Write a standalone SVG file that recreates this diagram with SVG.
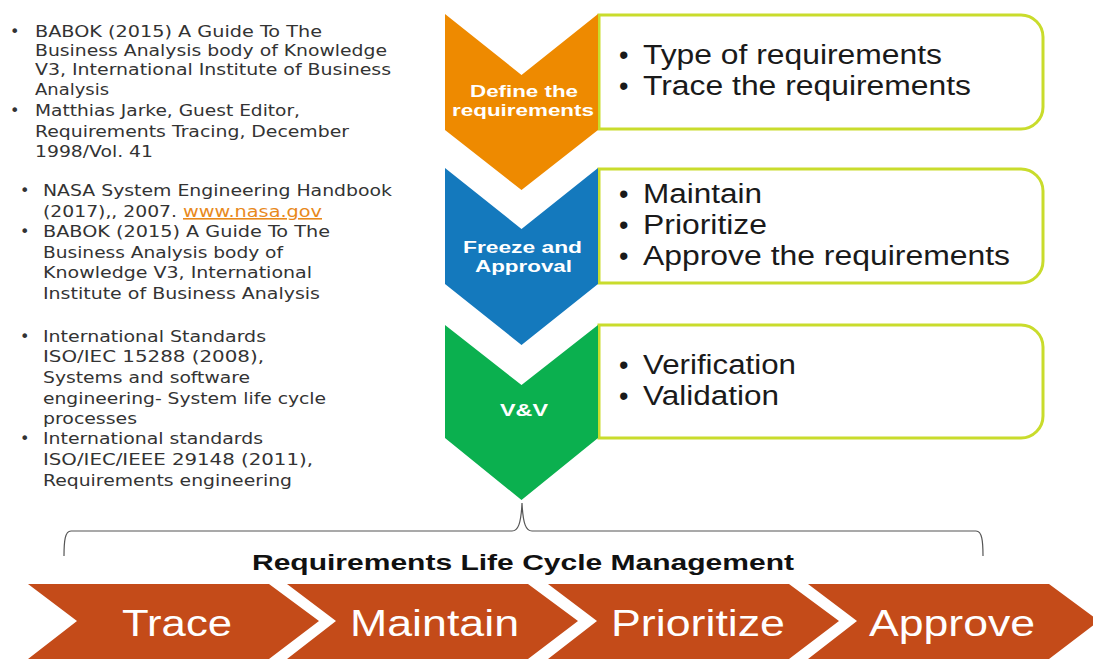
<svg xmlns="http://www.w3.org/2000/svg" width="1093" height="659" viewBox="0 0 1093 659">
<style>
.ref{font-family:"DejaVu Sans",Verdana,sans-serif;font-size:16px;fill:#333333}
.link{fill:#e8891c;text-decoration:underline}
.box{fill:#ffffff;stroke:#c9dc2c;stroke-width:3}
.boxtxt{font-family:"Liberation Sans",Arial,sans-serif;font-size:27px;fill:#1a1a1a}
.chevlbl{font-family:"Liberation Sans",Arial,sans-serif;font-size:16px;font-weight:bold;fill:#ffffff;text-anchor:middle}
.step{fill:#c44b19}
.steptxt{font-family:"Liberation Sans",Arial,sans-serif;font-size:36px;fill:#ffffff;text-anchor:middle}
.title{font-family:"Liberation Sans",Arial,sans-serif;font-size:22px;font-weight:bold;fill:#111111;text-anchor:middle}
.bracket{fill:none;stroke:#555555;stroke-width:1.2}
</style>
<rect width="1093" height="659" fill="#ffffff"/>

<g id="references">
<g id="ref-group-1" class="ref">
<text x="10" y="37">•</text>
<text x="35" y="37" textLength="287" lengthAdjust="spacingAndGlyphs">BABOK (2015) A Guide To The</text>
<text x="35" y="56" textLength="352" lengthAdjust="spacingAndGlyphs">Business Analysis body of Knowledge</text>
<text x="35" y="75" textLength="356" lengthAdjust="spacingAndGlyphs">V3, International Institute of Business</text>
<text x="35" y="95" textLength="74" lengthAdjust="spacingAndGlyphs">Analysis</text>
<text x="10" y="116">•</text>
<text x="35" y="116" textLength="265" lengthAdjust="spacingAndGlyphs">Matthias Jarke, Guest Editor,</text>
<text x="35" y="137" textLength="314" lengthAdjust="spacingAndGlyphs">Requirements Tracing, December</text>
<text x="35" y="157" textLength="118" lengthAdjust="spacingAndGlyphs">1998/Vol. 41</text>
</g>
<g id="ref-group-2" class="ref">
<text x="20" y="196">•</text>
<text x="43" y="196" textLength="349" lengthAdjust="spacingAndGlyphs">NASA System Engineering Handbook</text>
<text x="43" y="217" textLength="134" lengthAdjust="spacingAndGlyphs">(2017),, 2007.</text>
<text x="183" y="217" class="ref link" textLength="139" lengthAdjust="spacingAndGlyphs">www.nasa.gov</text>
<text x="20" y="237">•</text>
<text x="43" y="237" textLength="287" lengthAdjust="spacingAndGlyphs">BABOK (2015) A Guide To The</text>
<text x="43" y="258" textLength="240" lengthAdjust="spacingAndGlyphs">Business Analysis body of</text>
<text x="43" y="278" textLength="269" lengthAdjust="spacingAndGlyphs">Knowledge V3, International</text>
<text x="43" y="299" textLength="277" lengthAdjust="spacingAndGlyphs">Institute of Business Analysis</text>
</g>
<g id="ref-group-3" class="ref">
<text x="20" y="342">•</text>
<text x="43" y="342" textLength="223" lengthAdjust="spacingAndGlyphs">International Standards</text>
<text x="43" y="362" textLength="221" lengthAdjust="spacingAndGlyphs">ISO/IEC 15288 (2008),</text>
<text x="43" y="383" textLength="207" lengthAdjust="spacingAndGlyphs">Systems and software</text>
<text x="43" y="404" textLength="283" lengthAdjust="spacingAndGlyphs">engineering- System life cycle</text>
<text x="43" y="424" textLength="94" lengthAdjust="spacingAndGlyphs">processes</text>
<text x="20" y="444">•</text>
<text x="43" y="444" textLength="220" lengthAdjust="spacingAndGlyphs">International standards</text>
<text x="43" y="465" textLength="270" lengthAdjust="spacingAndGlyphs">ISO/IEC/IEEE 29148 (2011),</text>
<text x="43" y="486" textLength="249" lengthAdjust="spacingAndGlyphs">Requirements engineering</text>
</g>
</g>

<g id="connectors">
<path class="bracket" d="M64,556 C64,541 65,531 71,531 L512,531 C518,531 521,524 522,503 C523,524 526,531 532,531 L976,531 C982,531 983,541 983,556"/>
</g>

<g id="define">
<path class="box" d="M599,15 H1021 A22,22 0 0 1 1043,37 V107 A22,22 0 0 1 1021,129 H599 Z"/>
<path fill="#ee8a00" d="M445,14 L521.5,75 L598,14 L598,130 L521.5,190 L445,130 Z"/>
<text class="chevlbl" x="524" y="97" textLength="108" lengthAdjust="spacingAndGlyphs">Define the</text>
<text class="chevlbl" x="523" y="116" textLength="142" lengthAdjust="spacingAndGlyphs">requirements</text>
<text class="boxtxt" x="619" y="64">•</text>
<text class="boxtxt" x="643" y="64" textLength="299" lengthAdjust="spacingAndGlyphs">Type of requirements</text>
<text class="boxtxt" x="619" y="95">•</text>
<text class="boxtxt" x="643" y="95" textLength="328" lengthAdjust="spacingAndGlyphs">Trace the requirements</text>
</g>

<g id="freeze">
<path class="box" d="M599,169 H1021 A22,22 0 0 1 1043,191 V261 A22,22 0 0 1 1021,283 H599 Z"/>
<path fill="#1479bd" d="M445,168 L521.5,229 L598,168 L598,284 L521.5,345 L445,284 Z"/>
<text class="chevlbl" x="522.5" y="253" textLength="119" lengthAdjust="spacingAndGlyphs">Freeze and</text>
<text class="chevlbl" x="523.5" y="272" textLength="97" lengthAdjust="spacingAndGlyphs">Approval</text>
<text class="boxtxt" x="619" y="203">•</text>
<text class="boxtxt" x="643" y="203" textLength="119" lengthAdjust="spacingAndGlyphs">Maintain</text>
<text class="boxtxt" x="619" y="234">•</text>
<text class="boxtxt" x="643" y="234" textLength="124" lengthAdjust="spacingAndGlyphs">Prioritize</text>
<text class="boxtxt" x="619" y="265">•</text>
<text class="boxtxt" x="643" y="265" textLength="367" lengthAdjust="spacingAndGlyphs">Approve the requirements</text>
</g>

<g id="vv">
<path class="box" d="M599,325 H1021 A22,22 0 0 1 1043,347 V416 A22,22 0 0 1 1021,438 H599 Z"/>
<path fill="#0bb04f" d="M445,325 L521.5,385 L598,325 L598,438 L521.5,500 L445,438 Z"/>
<text class="chevlbl" x="524" y="416" textLength="48" lengthAdjust="spacingAndGlyphs">V&amp;V</text>
<text class="boxtxt" x="619" y="374">•</text>
<text class="boxtxt" x="643" y="374" textLength="153" lengthAdjust="spacingAndGlyphs">Verification</text>
<text class="boxtxt" x="619" y="405">•</text>
<text class="boxtxt" x="643" y="405" textLength="136" lengthAdjust="spacingAndGlyphs">Validation</text>
</g>

<g id="lifecycle-title">
<text class="title" x="523" y="570" textLength="542" lengthAdjust="spacingAndGlyphs">Requirements Life Cycle Management</text>
</g>

<g id="step-trace">
<path class="step" d="M28,584 H269 L319,621 L269,659 H28 L77,621 Z"/>
<text class="steptxt" x="177" y="636" textLength="110" lengthAdjust="spacingAndGlyphs">Trace</text>
</g>
<g id="step-maintain">
<path class="step" d="M287,584 H528 L578,621 L528,659 H287 L336,621 Z"/>
<text class="steptxt" x="434.5" y="636" textLength="169" lengthAdjust="spacingAndGlyphs">Maintain</text>
</g>
<g id="step-prioritize">
<path class="step" d="M548,584 H789 L839,621 L789,659 H548 L597,621 Z"/>
<text class="steptxt" x="698" y="636" textLength="174" lengthAdjust="spacingAndGlyphs">Prioritize</text>
</g>
<g id="step-approve">
<path class="step" d="M808,584 H1049 L1099,621 L1049,659 H808 L857,621 Z"/>
<text class="steptxt" x="952" y="636" textLength="166" lengthAdjust="spacingAndGlyphs">Approve</text>
</g>
</svg>
